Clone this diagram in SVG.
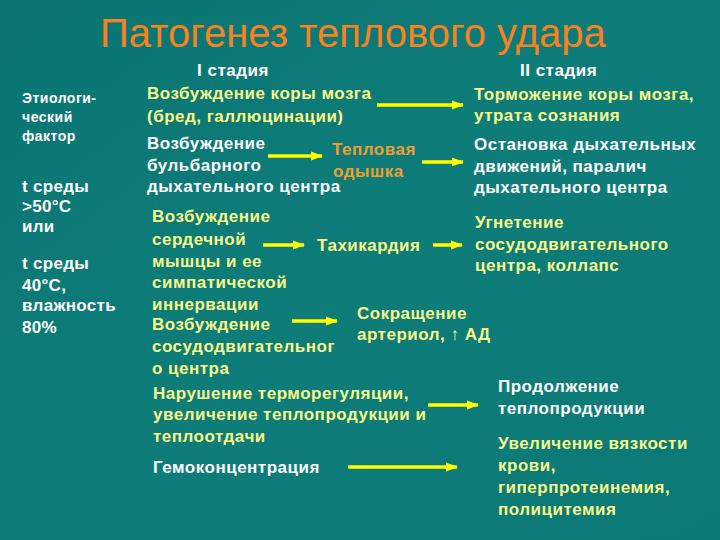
<svg xmlns="http://www.w3.org/2000/svg" width="720" height="540" viewBox="0 0 720 540">
<defs>
<linearGradient id="bg" x1="0" y1="0" x2="1" y2="1">
<stop offset="0" stop-color="#0a7573"/>
<stop offset="0.5" stop-color="#0e7d7a"/>
<stop offset="1" stop-color="#0b7a76"/>
</linearGradient>
<marker id="ah" markerWidth="12" markerHeight="10" refX="11" refY="5" orient="auto" markerUnits="userSpaceOnUse">
<path d="M0,0.5 L12,5 L0,9.5 z" fill="#ffff00"/>
</marker>
<style>
text{font-family:"Liberation Sans",Arial,sans-serif;font-weight:bold;}
.t{font-size:17px;letter-spacing:0.5px;}
.s{font-size:14px;letter-spacing:0.5px;fill:#ffffff;}
.l{font-size:17px;letter-spacing:0.3px;fill:#ffffff;}
.w{fill:#ffffff;}
.y{fill:#f8f88a;}
.o{fill:#eca030;}
.title{font-size:40px;font-weight:normal;fill:#f7821e;}
.c{stroke:#ffff00;stroke-width:3.5;fill:none;marker-end:url(#ah);}
</style>
</defs>
<rect width="720" height="540" fill="url(#bg)"/>
<text class="title" x="100" y="47">Патогенез теплового удара</text>

<g id="etiology">
<text class="s" x="22" y="103">Этиологи-</text>
<text class="s" x="22" y="122">ческий</text>
<text class="s" x="22" y="141">фактор</text>
<text class="l" x="22" y="192">t среды</text>
<text class="l" x="22" y="212">&gt;50°C</text>
<text class="l" x="22" y="232">или</text>
<text class="l" x="22" y="269">t среды</text>
<text class="l" x="22" y="291">40°C,</text>
<text class="l" x="22" y="311">влажность</text>
<text class="l" x="22" y="333">80%</text>
</g>

<g id="stage1-header"><text class="t w" x="197" y="76">I стадия</text></g>
<g id="stage2-header"><text class="t w" x="520" y="76">II стадия</text></g>

<g id="cortex-excitation">
<text class="t y" x="147" y="99">Возбуждение коры мозга</text>
<text class="t y" x="147" y="122">(бред, галлюцинации)</text>
</g>
<g id="cortex-inhibition">
<text class="t y" x="474" y="100">Торможение коры мозга,</text>
<text class="t y" x="474" y="121">утрата сознания</text>
</g>

<g id="bulbar">
<text class="t w" x="147" y="149">Возбуждение</text>
<text class="t w" x="147" y="171">бульбарного</text>
<text class="t w" x="147" y="192">дыхательного центра</text>
</g>
<g id="dyspnea">
<text class="t o" x="332" y="155">Тепловая</text>
<text class="t o" x="333" y="177">одышка</text>
</g>
<g id="resp-arrest">
<text class="t w" x="474" y="150">Остановка дыхательных</text>
<text class="t w" x="474" y="172">движений, паралич</text>
<text class="t w" x="474" y="193">дыхательного центра</text>
</g>

<g id="heart">
<text class="t y" x="152" y="222">Возбуждение</text>
<text class="t y" x="152" y="245">сердечной</text>
<text class="t y" x="152" y="267">мышцы и ее</text>
<text class="t y" x="152" y="288">симпатической</text>
<text class="t y" x="152" y="310">иннервации</text>
</g>
<g id="tachycardia"><text class="t y" x="317" y="251">Тахикардия</text></g>
<g id="vasomotor-inhibition">
<text class="t y" x="475" y="228">Угнетение</text>
<text class="t y" x="475" y="250">сосудодвигательного</text>
<text class="t y" x="475" y="271">центра, коллапс</text>
</g>

<g id="vasomotor">
<text class="t y" x="152" y="330">Возбуждение</text>
<text class="t y" x="152" y="352">сосудодвигательног</text>
<text class="t y" x="152" y="374">о центра</text>
</g>
<g id="arterioles">
<text class="t y" x="357" y="319">Сокращение</text>
<text class="t y" x="357" y="340">артериол, ↑ АД</text>
</g>

<g id="thermoregulation">
<text class="t y" x="153" y="399">Нарушение терморегуляции,</text>
<text class="t y" x="153" y="420">увеличение теплопродукции и</text>
<text class="t y" x="153" y="442">теплоотдачи</text>
</g>
<g id="heat-production">
<text class="t w" x="498" y="392">Продолжение</text>
<text class="t w" x="498" y="414">теплопродукции</text>
</g>

<g id="hemoconcentration"><text class="t w" x="153" y="473">Гемоконцентрация</text></g>
<g id="viscosity">
<text class="t y" x="498" y="449">Увеличение вязкости</text>
<text class="t y" x="498" y="471">крови,</text>
<text class="t y" x="498" y="493">гиперпротеинемия,</text>
<text class="t y" x="498" y="515">полицитемия</text>
</g>

<g id="connectors">
<line class="c" x1="377" y1="105" x2="463" y2="105"/>
<line class="c" x1="268" y1="156" x2="322" y2="156"/>
<line class="c" x1="422" y1="162" x2="463" y2="162"/>
<line class="c" x1="263" y1="245" x2="304" y2="245"/>
<line class="c" x1="433" y1="245" x2="462" y2="245"/>
<line class="c" x1="292" y1="321" x2="337" y2="321"/>
<line class="c" x1="428" y1="405" x2="478" y2="405"/>
<line class="c" x1="348" y1="467" x2="457" y2="467"/>
</g>
</svg>
